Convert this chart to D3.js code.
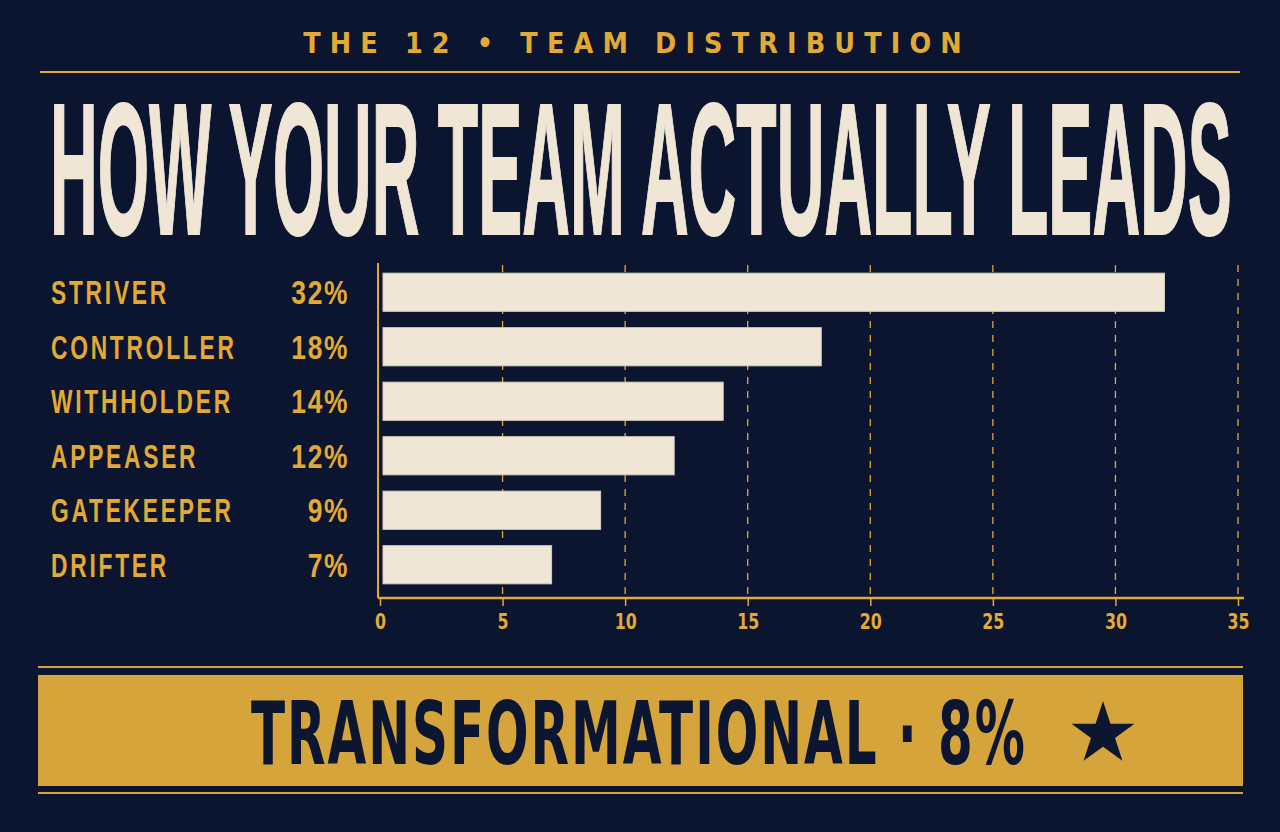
<!DOCTYPE html>
<html><head><meta charset="utf-8">
<script src="https://cdn.jsdelivr.net/npm/d3@7"></script>
<style>
html,body{margin:0;padding:0;background:#0b1530;}
svg{display:block;}
</style></head>
<body>
<svg id="c" width="1280" height="832"></svg>
<script>
const categories = ["STRIVER","CONTROLLER","WITHHOLDER","APPEASER","GATEKEEPER","DRIFTER"];
const values = [32,18,14,12,9,7];
const tickValues = [0,5,10,15,20,25,30,35];
const subtitle = "THE 12 • TEAM DISTRIBUTION";
const title = "HOW YOUR TEAM ACTUALLY LEADS";
const highlightLabel = "TRANSFORMATIONAL";
const highlightValue = 8;

const BG="#0b1530", GOLD="#e2a934", CREAM="#f0e6d6", BOX="#d5a43a", NAVY="#0c1630";
const FONT="'Liberation Sans Narrow','DejaVu Sans Condensed','Liberation Sans',Arial,sans-serif";
const FONT2="'Liberation Sans Narrow','Liberation Sans',Arial,sans-serif";

const svg = d3.select("#c");
svg.append("rect").attr("width",1280).attr("height",832).attr("fill",BG);

// helper: text placed in a translated group and compressed horizontally by a scale
function squeezeText(px, py, txt, opts){
  const g = svg.append("g").attr("transform",`translate(${px},${py})`);
  const t = g.append("text").text(txt)
    .attr("font-family",opts.font||FONT).attr("font-weight",opts.weight||700)
    .attr("font-size",opts.size).attr("fill",opts.fill)
    .attr("letter-spacing",opts.ls||0)
    .attr("text-anchor",opts.anchor||"start");
  if (opts.stroke) t.attr("stroke",opts.fill).attr("stroke-width",opts.stroke).attr("stroke-linejoin","miter");
  const w = t.node().getComputedTextLength();
  const k = opts.width ? opts.width / w : opts.k;
  t.attr("transform",`scale(${k},1)`);
  return t;
}

// Subtitle
squeezeText(637, 53, subtitle, {size:28, fill:GOLD, ls:9, anchor:"middle", width:668});
svg.append("line").attr("x1",40).attr("x2",1240).attr("y1",72).attr("y2",72)
  .attr("stroke",GOLD).attr("stroke-width",2);

// Title
squeezeText(50, 234, title, {size:188, fill:CREAM, width:1182, font:FONT2, stroke:2});

// Chart
const x = d3.scaleLinear().domain([0,35]).range([380,1238]);
const y = d3.scaleBand().domain(categories).range([265,592]).paddingInner(0.3).paddingOuter(0.15);
const axisY = 598;

// gridlines
svg.append("g").selectAll("line").data(tickValues.slice(1)).join("line")
  .attr("x1",d=>x(d)).attr("x2",d=>x(d)).attr("y1",265).attr("y2",axisY)
  .attr("stroke",GOLD).attr("stroke-width",1.3).attr("stroke-dasharray","7,7");

// bars
svg.append("g").selectAll("rect").data(categories).join("rect")
  .attr("x",x(0)+3).attr("y",d=>y(d))
  .attr("width",(d,i)=>x(values[i])-x(0)-3).attr("height",y.bandwidth())
  .attr("fill",CREAM).attr("stroke","#d8cdbc").attr("stroke-width",1);

// axis
const ax = svg.append("g").attr("transform",`translate(0,${axisY})`)
  .call(d3.axisBottom(x).tickValues(tickValues).tickSize(8).tickSizeOuter(0).tickFormat(d3.format("d")));
ax.select(".domain").remove();
ax.selectAll(".tick line").attr("stroke",GOLD).attr("stroke-width",1.5);
ax.selectAll(".tick text").attr("fill",GOLD).attr("font-family",FONT).attr("font-weight",700)
  .attr("font-size",22).attr("dy",0).attr("y",31).attr("transform","scale(0.8,1)");
svg.append("line").attr("x1",x(0)-2).attr("x2",1244).attr("y1",axisY).attr("y2",axisY)
  .attr("stroke",GOLD).attr("stroke-width",2.5);
svg.append("line").attr("x1",x(0)-2).attr("x2",x(0)-2).attr("y1",263).attr("y2",axisY)
  .attr("stroke",GOLD).attr("stroke-width",2);

// labels
categories.forEach((c,i)=>{
  const cy = y(c)+y.bandwidth()/2 + 12;
  squeezeText(51, cy, c, {size:33, fill:GOLD, ls:4, k:0.69, font:FONT2});
  squeezeText(349, cy, values[i]+"%", {size:33, fill:GOLD, ls:2, k:0.8, anchor:"end", font:FONT2});
});

// bottom highlight
svg.append("line").attr("x1",38).attr("x2",1243).attr("y1",667).attr("y2",667).attr("stroke",BOX).attr("stroke-width",2);
svg.append("rect").attr("x",38).attr("y",675).attr("width",1205).attr("height",111).attr("fill",BOX);
svg.append("line").attr("x1",38).attr("x2",1243).attr("y1",793).attr("y2",793).attr("stroke",BOX).attr("stroke-width",2);
squeezeText(251, 764, `${highlightLabel} · ${highlightValue}%`, {size:87, fill:NAVY, ls:3, width:776});
svg.append("path").attr("d",d3.symbol(d3.symbolStar).size(1230)())
  .attr("transform","translate(1103,734)").attr("fill",NAVY);
</script>
</body></html>
